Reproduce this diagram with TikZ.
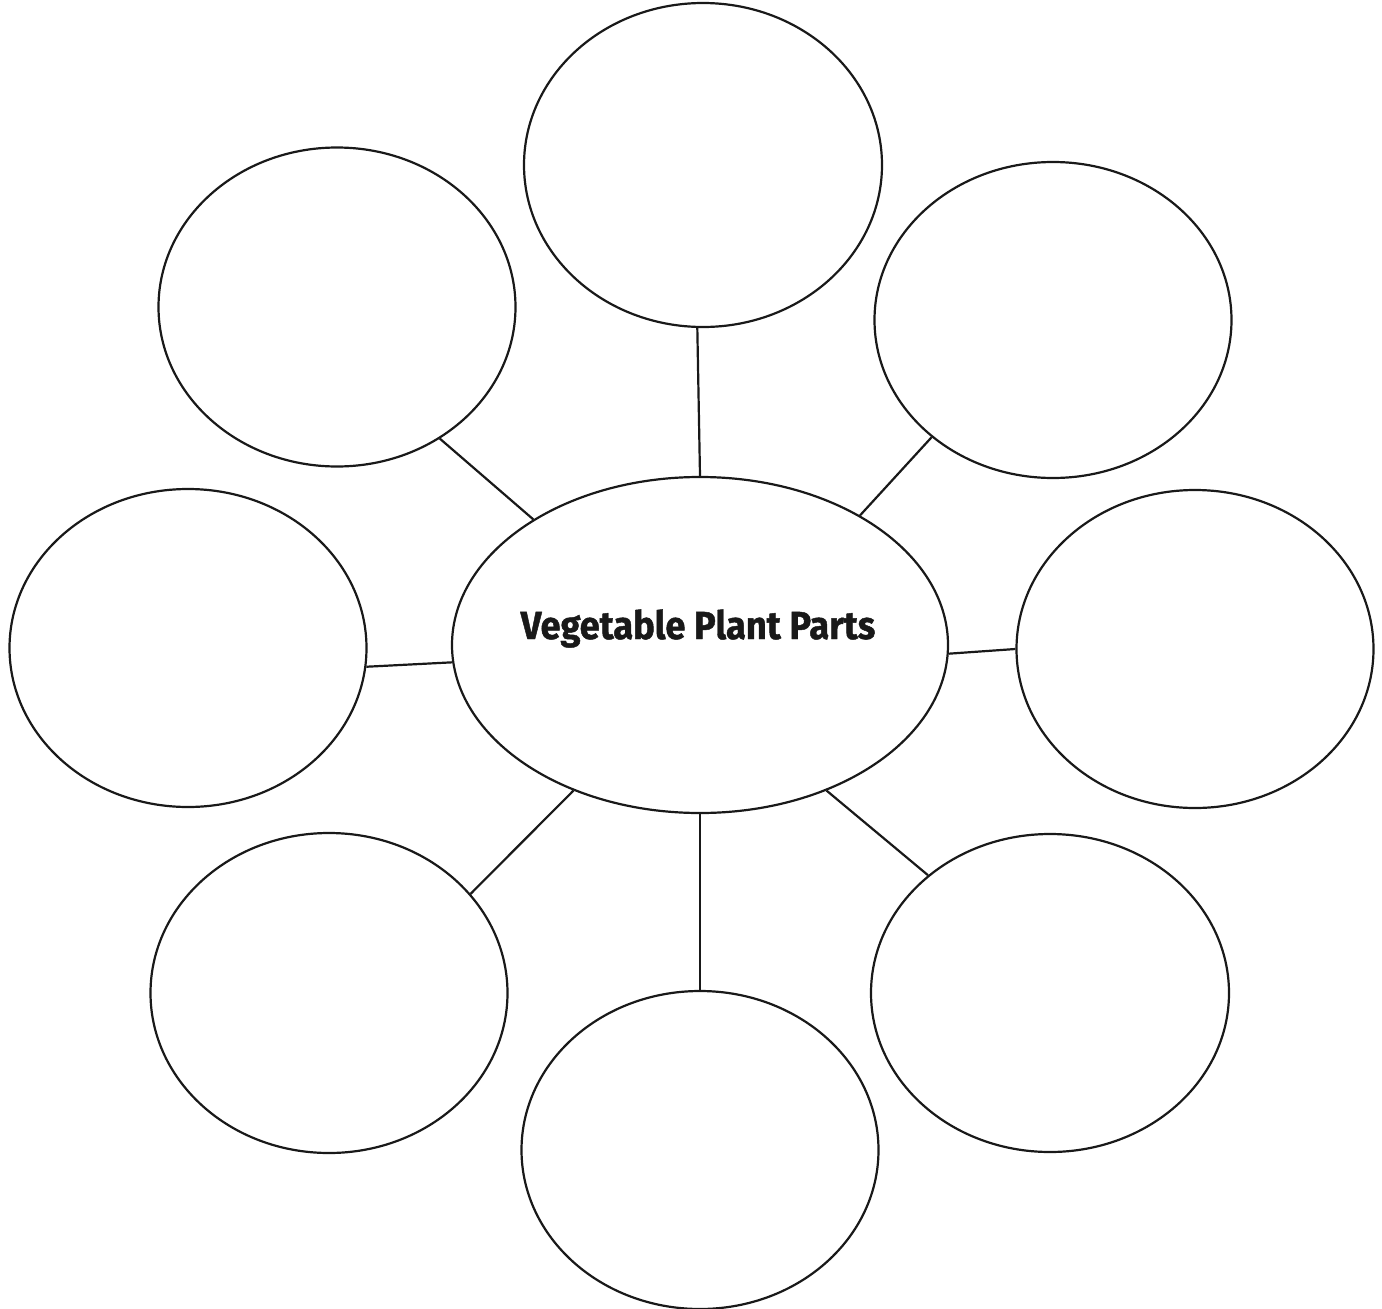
\documentclass[tikz,border=0pt]{standalone}
\usepackage{fontspec}
\setmainfont{Fira Sans}
\newfontfamily\titlefont{Fira Sans}[UprightFont=* Bold, FakeBold=1.2]
\usetikzlibrary{shapes.geometric}
\tikzset{
  bubble/.style={ellipse, draw=black!90, line width=2.2pt, inner sep=0pt},
  link/.style={draw=black!90, line width=2.2pt},
  title/.style={font=\titlefont\fontsize{39}{44}\selectfont, text=black!90, inner sep=0pt}
}
\begin{document}
\begin{tikzpicture}[x=1pt,y=-1pt]
\useasboundingbox (0,0) rectangle (1382,1309);
\node[bubble, minimum width=496pt, minimum height=336pt] (c) at (700,645) {};
\node[title, anchor=base] (t) at (698,639) {\scalebox{0.93}[1]{Vegetable Plant Parts}};
\node[bubble, minimum width=358pt, minimum height=324pt] (n) at (703,165) {};
\node[bubble, minimum width=357pt, minimum height=319pt] (nw) at (337,307) {};
\node[bubble, minimum width=357pt, minimum height=316pt] (ne) at (1053,320) {};
\node[bubble, minimum width=357pt, minimum height=318pt] (w) at (188,648) {};
\node[bubble, minimum width=357pt, minimum height=318pt] (e) at (1195,649) {};
\node[bubble, minimum width=357pt, minimum height=320pt] (sw) at (329,993) {};
\node[bubble, minimum width=357pt, minimum height=318pt] (s) at (700,1150) {};
\node[bubble, minimum width=358pt, minimum height=318pt] (se) at (1050,993) {};
\draw[link] (c.90.5) -- (n.268);
\draw[link] (c.143.6) -- (nw.308.7);
\draw[link] (c.39.8) -- (ne.224);
\draw[link] (c.184.2) -- (w.354.9);
\draw[link] (c.358.2) -- (e.180);
\draw[link] (c.229.7) -- (sw.35.2);
\draw[link] (c.270.5) -- (s.90.5);
\draw[link] (c.311.1) -- (se.136.9);
\end{tikzpicture}
\end{document}
